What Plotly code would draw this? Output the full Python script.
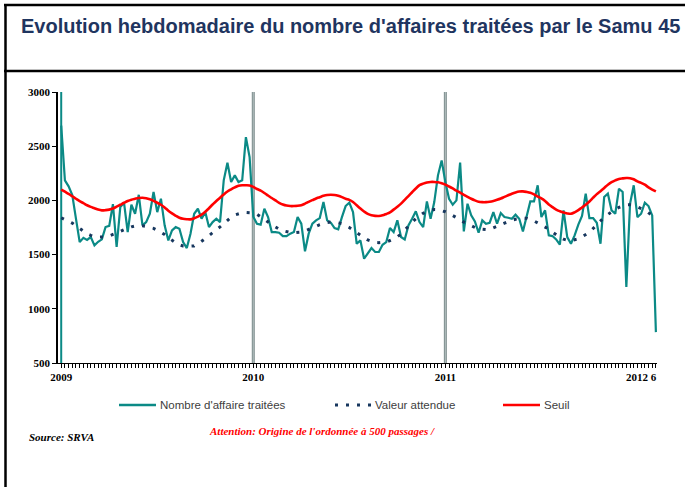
import plotly.graph_objects as go

# Weekly series, week index 0 = first week of 2009
affaires = [
    2690, 2185, 2130, 2050, 1830, 1615, 1655, 1635, 1662, 1585,
    1618, 1640, 1754, 1765, 1965, 1570, 1939, 1979, 1708, 1960,
    1877, 2052, 1770, 1800, 1877, 2077, 1892, 2015, 1770, 1631,
    1723, 1754, 1739, 1616, 1560, 1693, 1877, 1923, 1831, 1892,
    1754, 1800, 1831, 1800, 2185, 2348, 2169, 2231, 2169, 2185,
    2584, 2400, 1850, 1785, 1776, 1923, 1846, 1708, 1708, 1702,
    1671, 1671, 1693, 1708, 1846, 1785, 1530, 1693, 1785, 1816,
    1837, 1985, 1816, 1794, 1745, 1733, 1846, 1948, 1979, 1892,
    1600, 1631, 1462, 1517, 1560, 1524, 1524, 1591, 1616, 1745,
    1708, 1816, 1662, 1640, 1769, 1831, 1899, 1800, 1754, 1991,
    1831, 1985, 2231, 2369, 2169, 2015, 1960, 2000, 2348, 1714,
    1969, 1862, 1806, 1702, 1816, 1785, 1794, 1892, 1785, 1883,
    1846, 1840, 1831, 1868, 1831, 1714, 1846, 1991, 1991, 2139,
    1846, 1908, 1677, 1671, 1640, 1591, 1908, 1662, 1600, 1677,
    1776, 1856, 2062, 1837, 1837, 1794, 1600, 2031, 2062, 1908,
    1877, 2108, 2077, 1201, 1969, 2139, 1846, 1877, 1979, 1948,
    1862, 785,
]

attendue = [
    1840, 1825, 1808, 1790, 1765, 1738, 1712, 1692, 1678, 1666,
    1662, 1662, 1664, 1672, 1684, 1698, 1714, 1730, 1745, 1756,
    1764, 1768, 1766, 1760, 1754, 1742, 1725, 1708, 1685, 1658,
    1632, 1608, 1590, 1579, 1576, 1576, 1580, 1598, 1620, 1648,
    1675, 1700, 1728, 1756, 1785, 1815, 1845, 1865, 1878, 1886,
    1888, 1887, 1883, 1872, 1850, 1825, 1800, 1775, 1752, 1735,
    1720, 1710, 1704, 1702, 1702, 1708, 1718, 1730, 1745, 1760,
    1776, 1788, 1796, 1800, 1798, 1793, 1786, 1770, 1750, 1726,
    1700, 1678, 1656, 1635, 1620, 1612, 1610, 1612, 1616, 1630,
    1645, 1664, 1690, 1728, 1762, 1798, 1830, 1858, 1882, 1898,
    1910, 1916, 1915, 1908, 1895, 1880, 1862, 1843, 1822, 1800,
    1782, 1765, 1750, 1738, 1733, 1732, 1733, 1745, 1760, 1775,
    1790, 1805, 1816, 1826, 1833, 1837, 1835, 1825, 1810, 1792,
    1775, 1758, 1735, 1708, 1682, 1660, 1642, 1632, 1630, 1636,
    1645, 1665, 1685, 1705, 1740, 1778, 1815, 1845, 1870, 1895,
    1918, 1935, 1948, 1958, 1960, 1955, 1940, 1928, 1910, 1885,
    1862, 1840,
]

seuil = [
    2100, 2080, 2060, 2038, 2015, 1993, 1975, 1955, 1940, 1928,
    1915, 1908, 1910, 1915, 1925, 1942, 1960, 1978, 1995, 2007,
    2015, 2022, 2025, 2020, 2010, 1995, 1978, 1960, 1935, 1905,
    1880, 1858, 1840, 1830, 1826, 1825, 1835, 1850, 1868, 1895,
    1928, 1962, 1995, 2025, 2055, 2082, 2102, 2120, 2135, 2140,
    2140, 2138, 2125, 2105, 2090, 2068, 2045, 2022, 2000, 1978,
    1962, 1952, 1948, 1948, 1950, 1956, 1970, 1987, 2002, 2018,
    2030, 2042, 2050, 2052, 2050, 2042, 2030, 2015, 2005, 1985,
    1955, 1925, 1898, 1875, 1862, 1857, 1856, 1862, 1875, 1890,
    1915, 1942, 1970, 2005, 2040, 2075, 2110, 2140, 2155, 2165,
    2170, 2170, 2167, 2158, 2145, 2128, 2110, 2090, 2072, 2052,
    2033, 2015, 2000, 1988, 1984, 1984, 1988, 1995, 2005, 2017,
    2032, 2047, 2062, 2074, 2082, 2083, 2078, 2070, 2055, 2035,
    2018, 1995, 1962, 1938, 1915, 1900, 1888, 1880, 1877, 1890,
    1910, 1935, 1960, 1990, 2025, 2058, 2085, 2115, 2145, 2168,
    2185, 2198, 2203, 2206, 2205, 2195, 2175, 2162, 2145, 2120,
    2100, 2083,
]

weeks = list(range(len(affaires)))

year_ticks = [0, 52, 104, 157]
year_labels = ["2009", "2010", "2011", "2012 6"]
year_breaks = [52, 104]

TEAL = "#0b8a86"
NAVY = "#17375e"
RED = "#ff0000"
TITLE_BLUE = "#1f3560"
LEGEND_GREY = "#404040"

W, H = 685, 487
L, R, T, B = 58, 28, 92, 124
PW = W - L - R
PH = H - T - B


def px(x):
    return (x - L) / PW


def py(y):
    return (H - B - y) / PH


fig = go.Figure()
fig.add_trace(go.Scatter(x=weeks, y=affaires, mode="lines", name="Nombre d'affaire traitées",
                         line=dict(color=TEAL, width=2.2), showlegend=False))
fig.add_trace(go.Scatter(x=weeks, y=attendue, mode="lines", name="Valeur attendue",
                         line=dict(color=NAVY, width=3, dash="3px,8px"), showlegend=False))
fig.add_trace(go.Scatter(x=weeks, y=seuil, mode="lines", name="Seuil",
                         line=dict(color=RED, width=2.6, shape="spline"), showlegend=False))

shapes = []
# first-week marker
shapes.append(dict(type="line", xref="x", yref="paper", x0=weeks[0], x1=weeks[0], y0=0, y1=1,
                   line=dict(color=TEAL, width=2), layer="below"))
# year separators
for b in year_breaks:
    shapes.append(dict(type="line", xref="x", yref="paper", x0=b, x1=b, y0=0, y1=1,
                       line=dict(color="#7f8e8e", width=3), layer="below"))
    shapes.append(dict(type="line", xref="x", yref="paper", x0=b, x1=b, y0=0, y1=1,
                       line=dict(color="#b4c0c0", width=1), layer="below"))

# frame around the page and under the title
frame = dict(color="black", width=2.5)
shapes.append(dict(type="line", xref="paper", yref="paper", x0=px(5.5), x1=px(5.5),
                   y0=py(4), y1=py(490), line=frame))
shapes.append(dict(type="line", xref="paper", yref="paper", x0=px(4), x1=px(690),
                   y0=py(5), y1=py(5), line=frame))
shapes.append(dict(type="line", xref="paper", yref="paper", x0=px(4), x1=px(690),
                   y0=py(71), y1=py(71), line=frame))

# legend samples
ly = py(405)
shapes.append(dict(type="line", xref="paper", yref="paper", x0=px(119), x1=px(156),
                   y0=ly, y1=ly, line=dict(color=TEAL, width=2.5)))
shapes.append(dict(type="line", xref="paper", yref="paper", x0=px(335), x1=px(372),
                   y0=ly, y1=ly, line=dict(color=NAVY, width=3, dash="3px,8px")))
shapes.append(dict(type="line", xref="paper", yref="paper", x0=px(503), x1=px(540),
                   y0=ly, y1=ly, line=dict(color=RED, width=2.6)))

sans = "Liberation Sans, Arial, sans-serif"
serif = "Liberation Serif, Times New Roman, serif"

annotations = [
    dict(text="Evolution hebdomadaire du nombre d'affaires traitées par le Samu 45",
         xref="paper", yref="paper", x=px(19), y=py(26), xanchor="left", yanchor="middle",
         showarrow=False, font=dict(family=sans, size=20, color=TITLE_BLUE, weight="bold")),
    dict(text="Nombre d'affaire traitées", xref="paper", yref="paper", x=px(158), y=ly,
         xanchor="left", yanchor="middle", showarrow=False,
         font=dict(family=sans, size=11.5, color=LEGEND_GREY)),
    dict(text="Valeur attendue", xref="paper", yref="paper", x=px(373), y=ly,
         xanchor="left", yanchor="middle", showarrow=False,
         font=dict(family=sans, size=11.5, color=LEGEND_GREY)),
    dict(text="Seuil", xref="paper", yref="paper", x=px(542), y=ly,
         xanchor="left", yanchor="middle", showarrow=False,
         font=dict(family=sans, size=11.5, color=LEGEND_GREY)),
    dict(text="Source: SRVA", xref="paper", yref="paper", x=px(27), y=py(437),
         xanchor="left", yanchor="middle", showarrow=False,
         font=dict(family=serif, size=11, color="black", weight="bold", style="italic")),
    dict(text="Attention: Origine de l'ordonnée à 500 passages /", xref="paper", yref="paper",
         x=px(207), y=py(431), xanchor="left", yanchor="middle", showarrow=False,
         font=dict(family=serif, size=11, color=RED, weight="bold", style="italic")),
]

fig.update_layout(
    width=W, height=H,
    margin=dict(l=L, r=R, t=T, b=B),
    paper_bgcolor="white", plot_bgcolor="white",
    shapes=shapes, annotations=annotations,
    showlegend=False,
)
fig.update_xaxes(
    range=[-0.87, 161.3], showgrid=False, zeroline=False,
    showline=True, linecolor="black", linewidth=1,
    tickmode="array", tickvals=year_ticks, ticktext=year_labels,
    ticks="outside", ticklen=4, tickcolor="black",
    tickfont=dict(family=serif, size=11, color="black", weight="bold"),
    minor=dict(ticks="outside", ticklen=4, tickcolor="black", dtick=1, tick0=0),
)
fig.update_yaxes(
    range=[500, 3000], dtick=500, tick0=500, tickformat="d",
    showgrid=False, zeroline=False,
    showline=True, linecolor="black", linewidth=1.5,
    ticks="outside", ticklen=4, tickcolor="black",
    tickfont=dict(family=serif, size=11, color="black", weight="bold"),
)

fig.write_html("out.html")
